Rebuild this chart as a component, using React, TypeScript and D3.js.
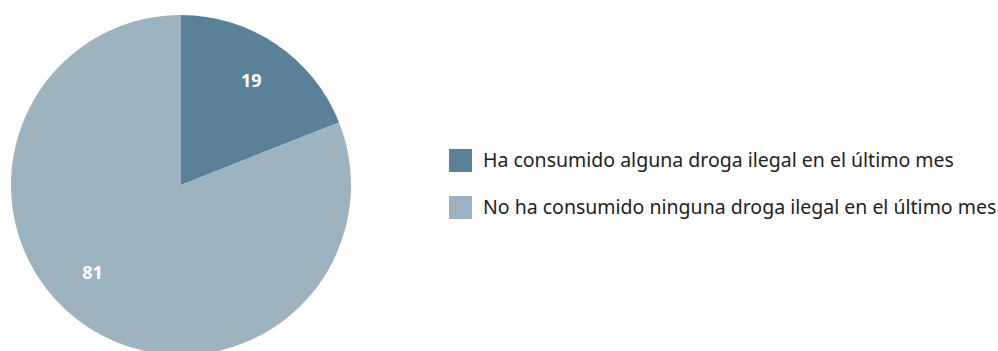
import { useRef, useEffect } from 'react';
import * as d3 from 'd3';

const categories = [
  'Ha consumido alguna droga ilegal en el último mes',
  'No ha consumido ninguna droga ilegal en el último mes',
];
const values = [19, 81];
const colors = ['#5b8199', '#9db3c0'];

export default function App() {
  const svgRef = useRef<SVGSVGElement>(null);

  useEffect(() => {
    if (!svgRef.current) return;
    const svg = d3.select(svgRef.current);
    svg.selectAll('*').remove();

    const cx = 181;
    const cy = 185;
    const radius = 170;

    const pie = d3.pie<number>().sort(null).value((d) => d);
    const arcs = pie(values);
    const arc = d3.arc<d3.PieArcDatum<number>>().innerRadius(0).outerRadius(radius);

    const g = svg.append('g').attr('transform', `translate(${cx},${cy})`);

    g.selectAll('path.slice')
      .data(arcs)
      .join('path')
      .attr('class', 'slice')
      .attr('d', arc)
      .attr('fill', (_, i) => colors[i]);

    // Data labels
    const labelArc = d3.arc<d3.PieArcDatum<number>>().innerRadius(250).outerRadius(250);
    g.selectAll('text.lbl')
      .data(arcs)
      .join('text')
      .attr('class', 'lbl')
      .attr('transform', (d, i) => {
        const shift = i === 1 ? 0.19 : 0;
        const [x, y] = labelArc.centroid({ ...d, startAngle: d.startAngle + shift, endAngle: d.endAngle + shift });
        return `translate(${x / 2},${y / 2 - 1})`;
      })
      .attr('text-anchor', 'middle')
      .attr('dy', '0.35em')
      .attr('fill', '#fff')
      .attr('font-family', '"Noto Sans", sans-serif')
      .attr('font-weight', 'bold')
      .attr('font-size', '18px')
      .text((d) => d.data);

    // Legend
    const legend = svg.append('g').attr('transform', 'translate(449,149)');
    const row = legend
      .selectAll('g')
      .data(categories)
      .join('g')
      .attr('transform', (_, i) => `translate(0,${i * 47})`);
    row.append('rect').attr('width', 23).attr('height', 23).attr('fill', (_, i) => colors[i]);
    row
      .append('text')
      .attr('x', 34)
      .attr('y', 11.5)
      .attr('dy', '0.35em')
      .attr('fill', '#222')
      .attr('font-family', '"Noto Sans", sans-serif')
      .attr('font-size', '19.5px')
      .text((d) => d);
  }, []);

  return (
    <svg
      ref={svgRef}
      width={998}
      height={351}
      style={{ position: 'absolute', left: 0, top: 0 }}
      role="img"
      aria-label="Consumo de drogas ilegales en el último mes"
    />
  );
}
